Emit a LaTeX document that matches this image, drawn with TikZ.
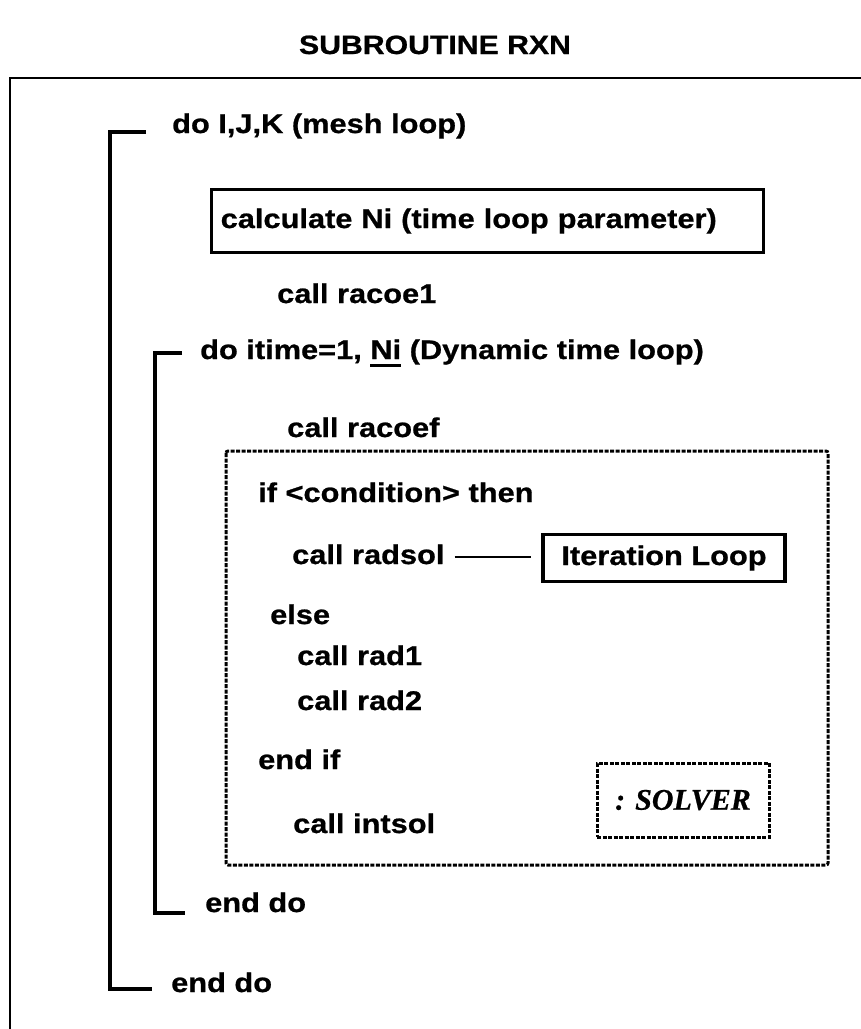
\documentclass[tikz,border=0pt]{standalone}
\usepackage{fontspec}
\setmainfont{Liberation Sans}[FakeStretch=1.14,BoldFeatures={FakeBold=0.8}]
\newfontfamily\solfont{Liberation Serif}[BoldItalicFeatures={FakeBold=0.6}]
\newsavebox\ulbox
\newcommand\thickul[1]{\sbox\ulbox{#1}\rlap{\rule[-8pt]{\wd\ulbox}{2.6pt}}#1}
\begin{document}
\begin{tikzpicture}[x=1pt,y=-1pt,
  txt/.style={anchor=west,inner sep=0pt,font=\fontsize{27}{32}\selectfont\bfseries,text height=19pt,text depth=5pt},
  bracket/.style={line width=4.2pt,line join=miter},
  solidbox/.style={draw,line width=3.4pt,inner sep=0pt},
  dotbox/.style={draw,line width=3pt,dash pattern=on 4pt off 1.5pt},
  frame/.style={line width=1.8pt}]
\useasboundingbox (0,0) rectangle (861,1029);
% title
\node[txt,anchor=center,font=\fontsize{26.5}{30}\selectfont\bfseries] (title) at (435,47) {SUBROUTINE RXN};
% frame
\coordinate (f1) at (861,78);
\coordinate (f2) at (10,78);
\coordinate (f3) at (10,1029);
\draw[frame] (f1) -- (f2) -- (f3);
% texts
\node[txt] (do1) at (172,126) {do I,J,K (mesh loop)};
\node[solidbox,anchor=west,font=\fontsize{27}{32}\selectfont\bfseries,text height=19pt,text depth=5pt,
      text width=534pt,inner xsep=9pt,minimum height=63pt,align=left] (calc) at (210,221) {calculate Ni (time loop parameter)};
\node[txt] (racoe1) at (277,296) {call racoe1};
\node[txt] (do2) at (200,352) {do itime=1, \thickul{Ni} (Dynamic time loop)};
\node[txt] (racoef) at (287,430) {call racoef};
\coordinate (db1) at (226,451);
\coordinate (db2) at (828,865);
\draw[dotbox,rounded corners=2pt] (db1) rectangle (db2);
\node[txt] (if) at (258,495) {if <condition> then};
\node[txt] (radsol) at (292,557) {call radsol};
\node[solidbox,font=\fontsize{27}{32}\selectfont\bfseries,text height=19pt,text depth=5pt,minimum width=242pt,minimum height=47pt] (iter) at (664,558) {Iteration Loop};
\draw[line width=2.4pt,shorten <=10pt,shorten >=10pt] (radsol.east) -- (radsol.east -| iter.west);
\node[txt] (else) at (270,617) {else};
\node[txt] (rad1) at (297,658) {call rad1};
\node[txt] (rad2) at (297,703) {call rad2};
\node[txt] (endif) at (258,762) {end if};
\node[txt] (intsol) at (293,826) {call intsol};
\node[dotbox,minimum width=172pt,minimum height=74pt,inner sep=0pt,font=\fontsize{30}{34}\solfont\bfseries\itshape] (solver) at (683,800) {: SOLVER};
\node[txt] (enddo1) at (205,905) {end do};
\node[txt] (enddo2) at (171,985) {end do};
% brackets
\coordinate (ob1) at (146,132);
\coordinate (ob2) at (110,132);
\coordinate (ob3) at (110,989);
\coordinate (ob4) at (152,989);
\draw[bracket] (ob1) -- (ob2) -- (ob3) -- (ob4);
\coordinate (ib1) at (182,353);
\coordinate (ib2) at (155,353);
\coordinate (ib3) at (155,913);
\coordinate (ib4) at (185,913);
\draw[bracket] (ib1) -- (ib2) -- (ib3) -- (ib4);
\end{tikzpicture}
\end{document}
